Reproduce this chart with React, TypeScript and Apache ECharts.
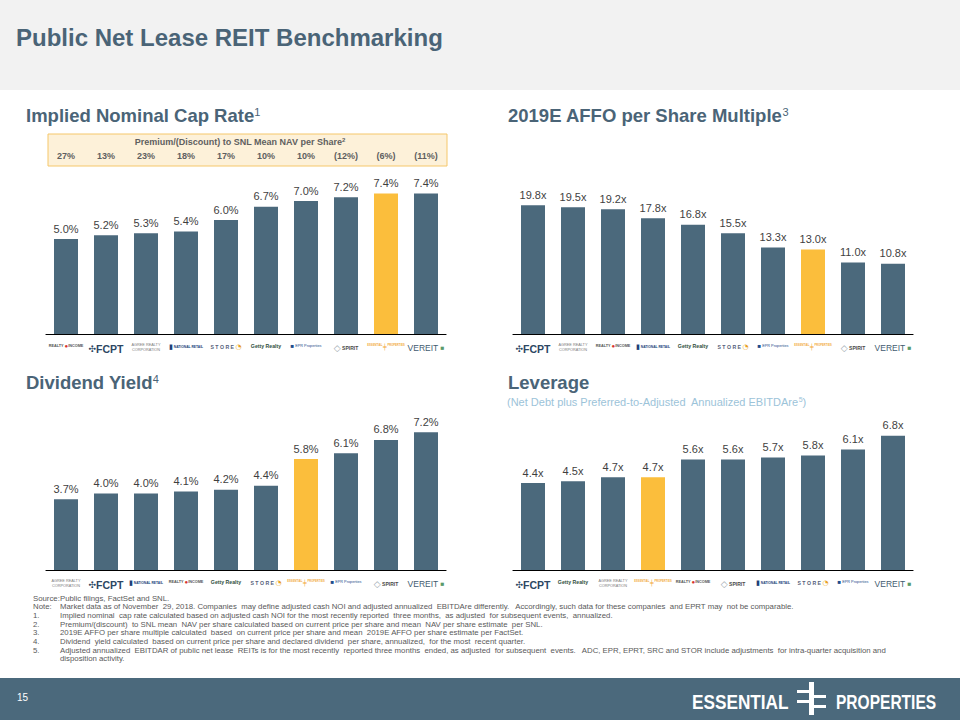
import React, { useEffect, useRef } from "react";
import * as echarts from "echarts";

const capCats = ["Realty Income", "FCPT", "Agree Realty", "National Retail", "STORE Capital", "Getty Realty", "EPR Properties", "Spirit", "Essential Properties", "VEREIT"];
const capRates = [5.0, 5.2, 5.3, 5.4, 6.0, 6.7, 7.0, 7.2, 7.4, 7.4];
const premiumLabels = ["27%", "13%", "23%", "18%", "17%", "10%", "10%", "(12%)", "(6%)", "(11%)"];

const affoCats = ["FCPT", "Agree Realty", "Realty Income", "National Retail", "Getty Realty", "STORE Capital", "EPR Properties", "Essential Properties", "Spirit", "VEREIT"];
const affoMultiples = [19.8, 19.5, 19.2, 17.8, 16.8, 15.5, 13.3, 13.0, 11.0, 10.8];

const divCats = ["Agree Realty", "FCPT", "National Retail", "Realty Income", "Getty Realty", "STORE Capital", "Essential Properties", "EPR Properties", "Spirit", "VEREIT"];
const divYields = [3.7, 4.0, 4.0, 4.1, 4.2, 4.4, 5.8, 6.1, 6.8, 7.2];

const levCats = ["FCPT", "Getty Realty", "Agree Realty", "Essential Properties", "Realty Income", "Spirit", "National Retail", "STORE Capital", "EPR Properties", "VEREIT"];
const leverage = [4.4, 4.5, 4.7, 4.7, 5.6, 5.6, 5.7, 5.8, 6.1, 6.8];

const footnotes = [
  ["Source:", "Public filings, FactSet and SNL."],
  ["Note:", "Market data as of November  29, 2018. Companies  may define adjusted cash NOI and adjusted annualized  EBITDAre differently.   Accordingly, such data for these companies  and EPRT may  not be comparable."],
  ["1.", "Implied nominal  cap rate calculated based on adjusted cash NOI for the most recently reported  three months,  as adjusted  for subsequent events,  annualized."],
  ["2.", "Premium/(discount)  to SNL mean  NAV per share calculated based on current price per share and mean  NAV per share estimate  per SNL."],
  ["3.", "2019E AFFO per share multiple calculated  based  on current price per share and mean  2019E AFFO per share estimate per FactSet."],
  ["4.", "Dividend  yield calculated  based on current price per share and declared dividend  per share, annualized,  for the most  recent quarter."],
  ["5.", "Adjusted annualized  EBITDAR of public net lease  REITs is for the most recently  reported three months  ended, as adjusted  for subsequent  events.   ADC, EPR, EPRT, SRC and STOR include adjustments  for intra-quarter acquisition and"],
  ["", "disposition activity."],
];

const HIGHLIGHT = "Essential Properties";
const BAR = "#4b697c";
const GOLD = "#fbbe3c";
const TITLE = "#4a6477";
const FONT = "Liberation Sans, Arial, sans-serif";

const logoRich: Record<string, any> = {
  ri: { fontSize: 3.8, color: "#555", fontWeight: "bold", fontFamily: FONT },
  riI: { fontSize: 6, color: "#d8342c", fontFamily: FONT },
  fi: { fontSize: 9, color: "#2d4763", fontFamily: "DejaVu Sans" },
  fcpt: { fontSize: 10.5, color: "#2d4763", fontWeight: "bold", fontFamily: FONT },
  agree: { fontSize: 3.8, color: "#7a7a7a", fontFamily: FONT, lineHeight: 4.5 },
  nnnI: { fontSize: 7, color: "#213f7a", fontFamily: FONT },
  nnn: { fontSize: 3.3, color: "#213f7a", fontFamily: FONT, fontWeight: "bold" },
  store: { fontSize: 5.2, color: "#55607a", fontWeight: "bold", fontFamily: FONT },
  storeI: { fontSize: 7, color: "#e8a020", fontFamily: "DejaVu Sans" },
  getty: { fontSize: 5.2, color: "#2f4f3c", fontWeight: "bold", fontFamily: FONT },
  eprI: { fontSize: 6, color: "#1f4d8c", fontFamily: FONT },
  epr: { fontSize: 3.8, color: "#1f4d8c", fontFamily: FONT },
  spI: { fontSize: 9, color: "#9aa4ad", fontFamily: "DejaVu Sans" },
  sp: { fontSize: 5, color: "#4a4a4a", fontWeight: "bold", fontFamily: FONT },
  ess: { fontSize: 2.7, color: "#f2a93b", fontFamily: FONT, fontWeight: "bold" },
  essI: { fontSize: 6, color: "#f2a93b", fontFamily: "DejaVu Sans" },
  ver: { fontSize: 8.5, color: "#3f5b70", fontFamily: FONT },
  verI: { fontSize: 6.5, color: "#5a9a6a", fontFamily: FONT },
};

function logoText(name: string): string {
  switch (name) {
    case "Realty Income": return "{ri|REALTY }{riI|●}{ri|INCOME}";
    case "FCPT": return "{fi|✣}{fcpt|FCPT}";
    case "Agree Realty": return "{agree|AGREE REALTY\nCORPORATION}";
    case "National Retail": return "{nnnI|▮}{nnn| NATIONAL RETAIL}";
    case "STORE Capital": return "{store|S T O R E }{storeI|◔}";
    case "Getty Realty": return "{getty|Getty Realty}";
    case "EPR Properties": return "{eprI|■}{epr| EPR Properties}";
    case "Spirit": return "{spI|◇}{sp| SPIRIT}";
    case "Essential Properties": return "{ess|ESSENTIAL }{essI|╪}{ess| PROPERTIES}";
    case "VEREIT": return "{ver|VEREIT }{verI|■}";
    default: return name;
  }
}

export default function App() {
  const ref = useRef<HTMLDivElement>(null);
  useEffect(() => {
    if (!ref.current) return;
    const chart = echarts.init(ref.current, undefined, { renderer: "svg" });

    const grids = [
      { left: 46, right: 514, top: 182, bottom: 386 },
      { left: 513, right: 47, top: 178, bottom: 386 },
      { left: 46, right: 514, top: 417, bottom: 150 },
      { left: 513, right: 47, top: 412, bottom: 150 },
    ];
    const cats = [capCats, affoCats, divCats, levCats];
    const vals = [capRates, affoMultiples, divYields, leverage];
    const maxes = [8, 24, 8, 8];
    const fmt = [
      (v: number) => v.toFixed(1) + "%",
      (v: number) => v.toFixed(1) + "x",
      (v: number) => v.toFixed(1) + "%",
      (v: number) => v.toFixed(1) + "x",
    ];

    const xAxis: any[] = cats.map((c, i) => ({
      type: "category",
      gridIndex: i,
      data: c,
      axisLine: { show: true, lineStyle: { color: "#000", width: 1.2 } },
      axisTick: { show: false },
      axisLabel: {
        interval: 0,
        margin: 9,
        formatter: (v: string) => logoText(v),
        rich: logoRich,
      },
    }));
    xAxis.push({
      type: "category",
      gridIndex: 0,
      position: "top",
      offset: 20,
      data: premiumLabels,
      axisLine: { show: false },
      axisTick: { show: false },
      axisLabel: {
        interval: 0,
        margin: 2,
        fontSize: 9,
        fontWeight: "bold",
        color: "#5f5f5f",
        fontFamily: FONT,
      },
    });

    const yAxis = maxes.map((m, i) => ({
      type: "value",
      gridIndex: i,
      min: 0,
      max: m,
      show: false,
      splitLine: { show: false },
    }));

    const series = vals.map((v, i) => ({
      type: "bar",
      xAxisIndex: i,
      yAxisIndex: i,
      barWidth: 24,
      data: v.map((val, j) => ({
        value: val,
        itemStyle: { color: cats[i][j] === HIGHLIGHT ? GOLD : BAR },
      })),
      label: {
        show: true,
        position: "top",
        distance: 5,
        fontSize: 11,
        color: "#3f3f3f",
        fontFamily: FONT,
        formatter: (p: any) => fmt[i](p.value),
      },
    }));

    const titleText = (x: number, y: number, main: string, sup: string) => ({
      type: "text",
      left: x,
      top: y,
      style: {
        text: `{m|${main}}{s|${sup}}`,
        rich: {
          m: { fontSize: 18.5, fontWeight: "bold", fill: TITLE, fontFamily: FONT },
          s: { fontSize: 11, fill: TITLE, fontFamily: FONT, verticalAlign: "top", padding: [0, 0, 8, 0] },
        },
      },
    });

    const narrow = "Liberation Sans, Arial, sans-serif";

    const graphic: any[] = [
      { type: "rect", shape: { x: 0, y: 0, width: 960, height: 90 }, style: { fill: "#f2f2f2" }, z: -10 },
      {
        type: "text", left: 16, top: 25,
        style: { text: "Public Net Lease REIT Benchmarking", fontSize: 24, fontWeight: "bold", fill: TITLE, fontFamily: FONT },
      },
      titleText(26, 106, "Implied Nominal Cap Rate", "1"),
      titleText(508, 106, "2019E AFFO per Share Multiple", "3"),
      titleText(26, 373, "Dividend Yield", "4"),
      { type: "text", left: 508, top: 373, style: { text: "Leverage", fontSize: 18.5, fontWeight: "bold", fill: TITLE, fontFamily: FONT } },
      {
        type: "text", left: 507, top: 396,
        style: {
          text: "{a|(Net Debt plus Preferred-to-Adjusted  Annualized EBITDAre}{b|5}{a|)}",
          rich: {
            a: { fontSize: 11, fill: "#9cc3d9", fontFamily: FONT },
            b: { fontSize: 7, fill: "#9cc3d9", fontFamily: FONT, verticalAlign: "top", padding: [0, 0, 5, 0] },
          },
        },
      },
      { type: "rect", shape: { x: 48, y: 134, width: 399, height: 32 }, style: { fill: "#fdf1d9", stroke: "#f5c76a", lineWidth: 1 }, z: -5 },
      {
        type: "text", x: 240, y: 142,
        style: {
          text: "{a|Premium/(Discount) to SNL Mean NAV per Share}{b|2}",
          align: "center", verticalAlign: "middle",
          rich: {
            a: { fontSize: 9, fontWeight: "bold", fill: "#5f5f5f", fontFamily: FONT },
            b: { fontSize: 6, fontWeight: "bold", fill: "#5f5f5f", fontFamily: FONT, verticalAlign: "top", padding: [0, 0, 4, 0] },
          },
        },
      },
      { type: "rect", shape: { x: 0, y: 678, width: 960, height: 42 }, style: { fill: "#4b697c" } },
      { type: "text", left: 17, top: 692, style: { text: "15", fontSize: 10, fill: "#ffffff", fontFamily: FONT } },
      {
        type: "text", x: 692, y: 691, scaleX: 0.82,
        style: { text: "ESSENTIAL", fontSize: 21, fontWeight: "bold", fill: "#ffffff", fontFamily: narrow, verticalAlign: "top" },
      },
      { type: "rect", shape: { x: 809, y: 682, width: 5, height: 33 }, style: { fill: "#ffffff" } },
      { type: "rect", shape: { x: 797, y: 690, width: 14, height: 3 }, style: { fill: "#ffffff" } },
      { type: "rect", shape: { x: 812, y: 695, width: 14, height: 3 }, style: { fill: "#ffffff" } },
      { type: "rect", shape: { x: 797, y: 700, width: 14, height: 3 }, style: { fill: "#ffffff" } },
      { type: "rect", shape: { x: 812, y: 705, width: 14, height: 3 }, style: { fill: "#ffffff" } },
      {
        type: "text", x: 836, y: 691, scaleX: 0.74,
        style: { text: "PROPERTIES", fontSize: 21, fontWeight: "bold", fill: "#ffffff", fontFamily: narrow, verticalAlign: "top" },
      },
    ];

    footnotes.forEach(([num, txt], i) => {
      const y = 594 + i * 8.7;
      if (num) graphic.push({ type: "text", left: 33, top: y, style: { text: num, fontSize: 7.8, fill: "#595959", fontFamily: FONT } });
      graphic.push({ type: "text", left: 60, top: y, style: { text: txt, fontSize: 7.8, fill: "#595959", fontFamily: FONT } });
    });

    chart.setOption({
      animation: false,
      backgroundColor: "#ffffff",
      grid: grids,
      xAxis,
      yAxis,
      series,
      graphic,
    });
    return () => chart.dispose();
  }, []);

  return (
    <div
      ref={ref}
      style={{ position: "fixed", left: 0, top: 0, width: 960, height: 720 }}
    />
  );
}
